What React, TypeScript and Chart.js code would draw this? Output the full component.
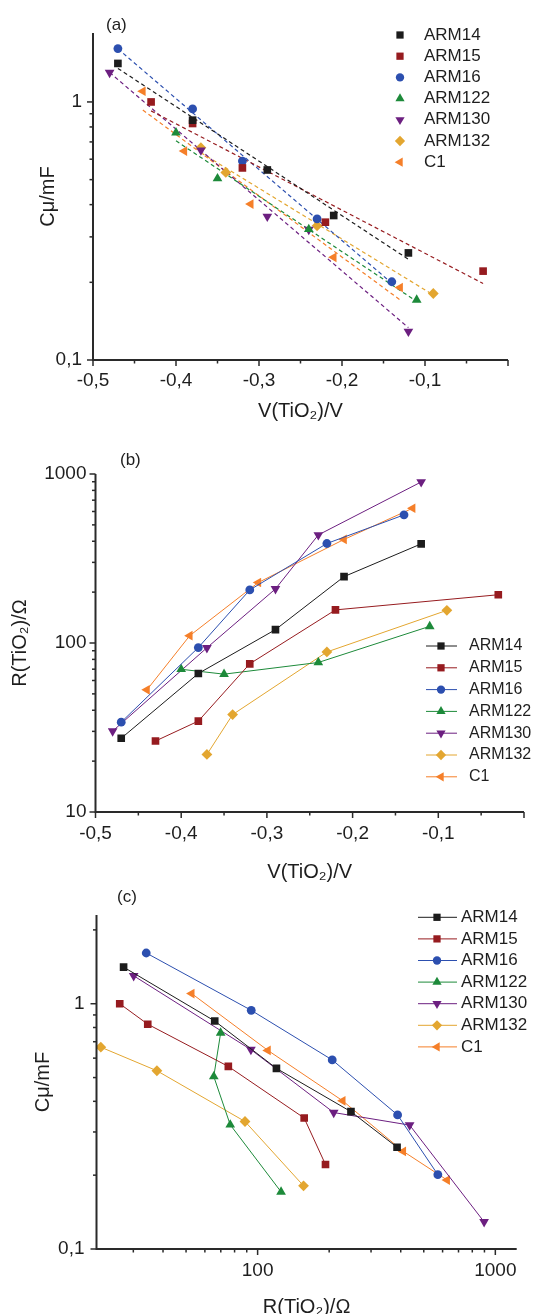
import React, { useEffect, useRef } from 'react';
import { Chart, registerables } from 'chart.js';
import { drawPoint } from 'chart.js/helpers';

Chart.register(...registerables);

const FONT = '"Liberation Sans", Arial, Helvetica, sans-serif';
const INK = '#1e1e1e';

// ---------------- data ----------------
const SERIES_NAMES = ['ARM14', 'ARM15', 'ARM16', 'ARM122', 'ARM130', 'ARM132', 'C1'];

// V(TiO2) / V
const V_ARM14 = [-0.47, -0.38, -0.29, -0.21, -0.12];
const V_ARM15 = [-0.43, -0.38, -0.32, -0.22, -0.03];
const V_ARM16 = [-0.47, -0.38, -0.32, -0.23, -0.14];
const V_ARM122 = [-0.40, -0.35, -0.24, -0.11];
const V_ARM130 = [-0.48, -0.37, -0.29, -0.24, -0.12];
const V_ARM132 = [-0.37, -0.34, -0.23, -0.09];
const V_C1 = [-0.44, -0.39, -0.31, -0.21, -0.13];

// C_mu / mF
const C_ARM14 = [1.41, 0.85, 0.545, 0.363, 0.26];
const C_ARM15 = [1.0, 0.825, 0.555, 0.342, 0.221];
const C_ARM16 = [1.61, 0.94, 0.59, 0.352, 0.201];
const C_ARM122 = [0.76, 0.505, 0.321, 0.171];
const C_ARM130 = [1.3, 0.65, 0.36, 0.32, 0.129];
const C_ARM132 = [0.665, 0.533, 0.331, 0.181];
const C_C1 = [1.1, 0.645, 0.402, 0.25, 0.191];

// R(TiO2) / Ohm
const R_ARM14 = [27.3, 66, 120, 247, 386];
const R_ARM15 = [26.3, 34.5, 75.3, 157, 193];
const R_ARM16 = [34, 94, 206, 388, 573];
const R_ARM122 = [69.9, 65.4, 76.7, 125.5];
const R_ARM130 = [30.1, 93.7, 209, 436, 897];
const R_ARM132 = [21.9, 37.7, 88.5, 156];
const R_C1 = [52.8, 110.5, 228, 410, 627];

const V_ALL = [V_ARM14, V_ARM15, V_ARM16, V_ARM122, V_ARM130, V_ARM132, V_C1];
const C_ALL = [C_ARM14, C_ARM15, C_ARM16, C_ARM122, C_ARM130, C_ARM132, C_C1];
const R_ALL = [R_ARM14, R_ARM15, R_ARM16, R_ARM122, R_ARM130, R_ARM132, R_C1];

// tick labels
const V_TICK_VALUES = [-0.5, -0.4, -0.3, -0.2, -0.1];
const V_TICK_LABELS = ['-0,5', '-0,4', '-0,3', '-0,2', '-0,1'];
const C_TICK_VALUES = [0.1, 1];
const C_TICK_LABELS = ['0,1', '1'];
const R_TICK_VALUES = [10, 100, 1000];
const R_TICK_LABELS = ['10', '100', '1000'];

// ---------------- styles ----------------
const STYLES = [
  { color: '#1c1c1c', pointStyle: 'rect', rotation: 0, radius: 5.4 },
  { color: '#961b1f', pointStyle: 'rect', rotation: 0, radius: 5.4 },
  { color: '#2c4faf', pointStyle: 'circle', rotation: 0, radius: 4.4 },
  { color: '#1d8a3a', pointStyle: 'triangle', rotation: 0, radius: 5.6 },
  { color: '#6c1f80', pointStyle: 'triangle', rotation: 180, radius: 5.6 },
  { color: '#e3a630', pointStyle: 'rectRot', rotation: 0, radius: 5.4 },
  { color: '#f57f29', pointStyle: 'triangle', rotation: 270, radius: 5.6 },
];

function labelFor(v: number, vals: number[], labs: string[]) {
  const i = vals.findIndex((t) => Math.abs(t - v) < 1e-6 * Math.max(1, Math.abs(t)));
  return i >= 0 ? labs[i] : '';
}

function tickKind(scale: any, v: number): null | 'major' | 'minor' {
  if (v < scale.min - 1e-9 || v > scale.max + 1e-9) return null;
  if (scale.type === 'logarithmic') {
    const e = Math.floor(Math.log10(v) + 1e-9);
    const sig = v / Math.pow(10, e);
    if (Math.abs(sig - 1) < 1e-6) return 'major';
    if (Math.abs(sig - Math.round(sig)) < 1e-6) return 'minor';
    return null;
  }
  if (Math.abs(v * 10 - Math.round(v * 10)) < 1e-6) return 'major';
  if (Math.abs(v * 20 - Math.round(v * 20)) < 1e-6) return 'minor';
  return null;
}

const axesPlugin = {
  id: 'originAxes',
  afterDraw(chart: any) {
    const { ctx, chartArea: a } = chart;
    ctx.save();
    ctx.strokeStyle = '#2a2a2a';
    ctx.lineWidth = 2;
    ctx.beginPath();
    ctx.moveTo(a.left, a.top);
    ctx.lineTo(a.left, a.bottom);
    ctx.lineTo(a.right, a.bottom);
    ctx.stroke();
    ctx.lineWidth = 1.5;
    for (const id of ['x', 'y']) {
      const s = chart.scales[id];
      for (const t of s.ticks) {
        const kind = tickKind(s, t.value);
        if (!kind) continue;
        const len = kind === 'major' ? 6 : 3.5;
        const p = s.getPixelForValue(t.value);
        ctx.beginPath();
        if (id === 'x') {
          ctx.moveTo(p, a.bottom);
          ctx.lineTo(p, a.bottom + len);
        } else {
          ctx.moveTo(a.left, p);
          ctx.lineTo(a.left - len, p);
        }
        ctx.stroke();
      }
    }
    ctx.restore();
  },
};

function legendPlugin(cfg: any) {
  return {
    id: 'refLegend',
    afterDraw(chart: any) {
      const ctx = chart.ctx;
      ctx.save();
      ctx.textBaseline = 'middle';
      ctx.textAlign = 'left';
      SERIES_NAMES.forEach((name, i) => {
        const st = STYLES[i];
        const y = cfg.y0 + i * cfg.dy;
        if (cfg.line) {
          ctx.strokeStyle = st.color;
          ctx.lineWidth = 1;
          ctx.beginPath();
          ctx.moveTo(cfg.lineX0, y);
          ctx.lineTo(cfg.lineX1, y);
          ctx.stroke();
        }
        ctx.fillStyle = st.color;
        ctx.strokeStyle = st.color;
        drawPoint(ctx, { pointStyle: st.pointStyle, rotation: st.rotation, radius: st.radius * 0.95, borderWidth: 0 } as any, cfg.markerX, y);
        ctx.fillStyle = INK;
        ctx.font = `${cfg.fontSize}px ${FONT}`;
        ctx.fillText(name, cfg.textX, y);
      });
      ctx.font = `17px ${FONT}`;
      ctx.fillStyle = INK;
      ctx.fillText(cfg.label, cfg.labelX, cfg.labelY);
      ctx.restore();
    },
  };
}

function markerSets(xs: number[][], ys: number[][], showLine: boolean) {
  return SERIES_NAMES.map((name, i) => {
    const st = STYLES[i];
    return {
      label: name,
      data: xs[i].map((x, j) => ({ x, y: ys[i][j] })),
      showLine,
      borderColor: st.color,
      backgroundColor: st.color,
      borderWidth: 1,
      pointStyle: st.pointStyle,
      pointRotation: st.rotation,
      pointRadius: st.radius,
      pointHoverRadius: st.radius,
      pointBorderWidth: 0,
    };
  });
}

// least-squares fit of log10(C) against V, drawn between the first and last voltage
function fitSets() {
  return SERIES_NAMES.map((name, i) => {
    const xs = V_ALL[i];
    const ys = C_ALL[i].map((c) => Math.log10(c));
    const n = xs.length;
    const mx = xs.reduce((s, v) => s + v, 0) / n;
    const my = ys.reduce((s, v) => s + v, 0) / n;
    let sxy = 0;
    let sxx = 0;
    for (let k = 0; k < n; k++) {
      sxy += (xs[k] - mx) * (ys[k] - my);
      sxx += (xs[k] - mx) * (xs[k] - mx);
    }
    const b = sxy / sxx;
    const x0 = Math.min(...xs);
    const x1 = Math.max(...xs);
    return {
      label: name + ' fit',
      data: [x0, x1].map((x) => ({ x, y: Math.pow(10, my + b * (x - mx)) })),
      showLine: true,
      borderColor: STYLES[i].color,
      borderWidth: 1.2,
      borderDash: [4, 3],
      pointRadius: 0,
      pointHoverRadius: 0,
    };
  });
}

function makeScale(kind: 'x' | 'y', geo: any, extra: any) {
  return {
    type: extra.type,
    min: extra.min,
    max: extra.max,
    position: kind === 'x' ? 'bottom' : 'left',
    grid: { display: false, drawTicks: false },
    border: { display: false },
    ticks: {
      autoSkip: false,
      maxRotation: 0,
      color: INK,
      font: { size: 19, family: FONT },
      padding: kind === 'x' ? geo.xTickPad : geo.yTickPad,
      callback: extra.callback,
      ...(extra.stepSize ? { stepSize: extra.stepSize } : {}),
    },
    title: {
      display: true,
      text: extra.title,
      color: INK,
      font: { size: 20, family: FONT },
      padding: kind === 'x' ? { top: 0, bottom: geo.xTitlePad } : { top: geo.yTitlePad, bottom: 0 },
    },
    afterFit: (s: any) => {
      if (kind === 'x') s.height = geo.height - geo.plotBottom;
      else s.width = geo.left;
    },
  };
}

const GEO_A = { height: 430, left: 93, right: 508, plotTop: 33, plotBottom: 360, xTickPad: 9, yTickPad: 11, xTitlePad: 7, yTitlePad: 36 };
const GEO_B = { height: 480, left: 95.5, right: 524, plotTop: 54, plotBottom: 392, xTickPad: 10, yTickPad: 9, xTitlePad: 16, yTitlePad: 8 };
const GEO_C = { height: 450, left: 96.5, right: 516.7, plotTop: 45, plotBottom: 379, xTickPad: 10, yTickPad: 12, xTitlePad: 1, yTitlePad: 31 };

function baseOptions(geo: any, scales: any) {
  return {
    responsive: false,
    animation: false,
    events: [],
    layout: { padding: { left: 0, top: geo.plotTop, right: 539 - geo.right, bottom: 0 } },
    plugins: { legend: { display: false }, tooltip: { enabled: false } },
    scales,
  };
}

const vCallback = (v: any) => labelFor(Number(v), V_TICK_VALUES, V_TICK_LABELS);
const cCallback = (v: any) => labelFor(Number(v), C_TICK_VALUES, C_TICK_LABELS);
const rCallback = (v: any) => labelFor(Number(v), R_TICK_VALUES, R_TICK_LABELS);

function configA(): any {
  return {
    type: 'scatter',
    data: { datasets: [...markerSets(V_ALL, C_ALL, false), ...fitSets()] },
    options: baseOptions(GEO_A, {
      x: makeScale('x', GEO_A, { title: 'V(TiO₂)/V', callback: vCallback, type: 'linear', min: -0.5, max: 0, stepSize: 0.05 }),
      y: makeScale('y', GEO_A, { title: 'Cμ/mF', callback: cCallback, type: 'logarithmic', min: 0.1, max: 1.85 }),
    }),
    plugins: [axesPlugin, legendPlugin({ line: false, markerX: 400, textX: 424, y0: 35, dy: 21.2, fontSize: 17, label: '(a)', labelX: 106, labelY: 25 })],
  };
}

function configB(): any {
  return {
    type: 'scatter',
    data: { datasets: markerSets(V_ALL, R_ALL, true) },
    options: baseOptions(GEO_B, {
      x: makeScale('x', GEO_B, { title: 'V(TiO₂)/V', callback: vCallback, type: 'linear', min: -0.5, max: 0, stepSize: 0.05 }),
      y: makeScale('y', GEO_B, { title: 'R(TiO₂)/Ω', callback: rCallback, type: 'logarithmic', min: 10, max: 1000 }),
    }),
    plugins: [axesPlugin, legendPlugin({ line: true, lineX0: 426, lineX1: 457, markerX: 441, textX: 469, y0: 226, dy: 21.8, fontSize: 16, label: '(b)', labelX: 120, labelY: 40 })],
  };
}

function configC(): any {
  return {
    type: 'scatter',
    data: { datasets: markerSets(R_ALL, C_ALL, true) },
    options: baseOptions(GEO_C, {
      x: makeScale('x', GEO_C, { title: 'R(TiO₂)/Ω', callback: rCallback, type: 'logarithmic', min: 21, max: 1230 }),
      y: makeScale('y', GEO_C, { title: 'Cμ/mF', callback: cCallback, type: 'logarithmic', min: 0.1, max: 2.3 }),
    }),
    plugins: [axesPlugin, legendPlugin({ line: true, lineX0: 418, lineX1: 457, markerX: 437, textX: 461, y0: 47.3, dy: 21.6, fontSize: 17, label: '(c)', labelX: 117, labelY: 27 })],
  };
}

export default function App() {
  const refA = useRef<HTMLCanvasElement>(null);
  const refB = useRef<HTMLCanvasElement>(null);
  const refC = useRef<HTMLCanvasElement>(null);

  useEffect(() => {
    Chart.defaults.font.family = FONT;
    const charts = [
      new Chart(refA.current as HTMLCanvasElement, configA()),
      new Chart(refB.current as HTMLCanvasElement, configB()),
      new Chart(refC.current as HTMLCanvasElement, configC()),
    ];
    return () => charts.forEach((c) => c.destroy());
  }, []);

  const cs = (top: number, h: number): React.CSSProperties => ({ position: 'absolute', left: 0, top, width: 539, height: h });

  return (
    <div style={{ position: 'fixed', left: 0, top: 0, width: 539, height: 1314, overflow: 'hidden', background: '#fff' }}>
      <canvas ref={refA} width={539} height={GEO_A.height} style={cs(0, GEO_A.height)} />
      <canvas ref={refB} width={539} height={GEO_B.height} style={cs(420, GEO_B.height)} />
      <canvas ref={refC} width={539} height={GEO_C.height} style={cs(870, GEO_C.height)} />
    </div>
  );
}
